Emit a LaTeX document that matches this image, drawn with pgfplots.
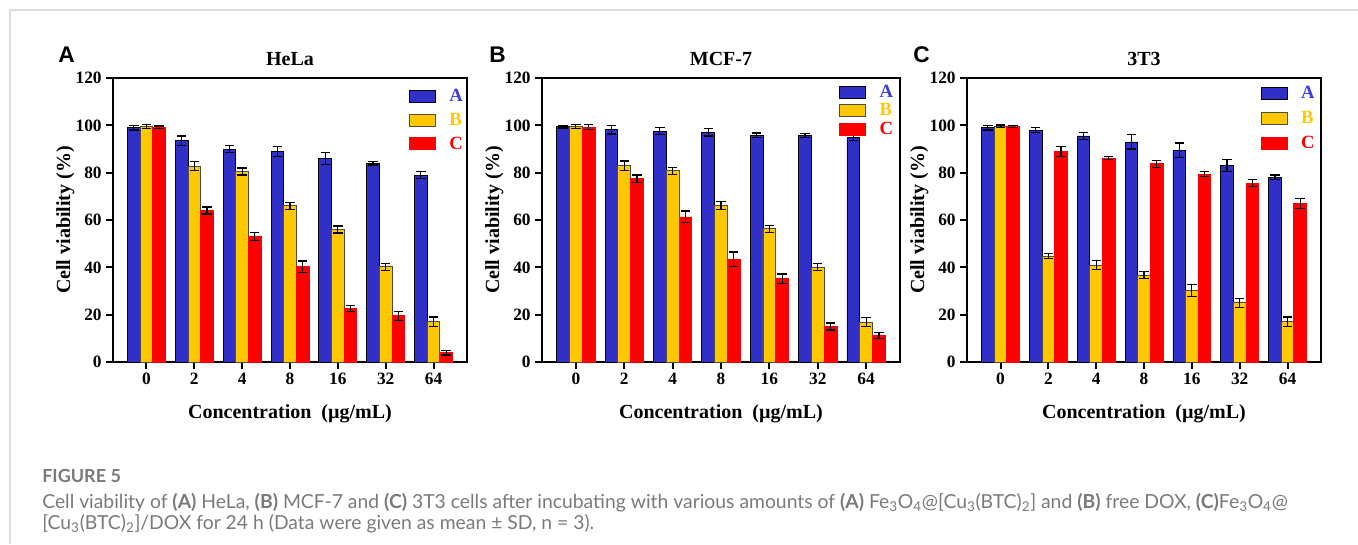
\documentclass[border=0pt]{standalone}
\usepackage{fontspec}
\setmainfont{Liberation Serif}
\newfontfamily\panelfont{Liberation Sans}
\newfontfamily\capfont{Lato}
\usepackage{pgfplots}
\pgfplotsset{compat=1.18}
\definecolor{cblue}{HTML}{3030C8}
\definecolor{cblueT}{HTML}{3C3CE0}
\definecolor{cyellow}{HTML}{FFC800}
\definecolor{cred}{HTML}{FF0000}
\definecolor{capgray}{HTML}{7A7A7A}
\definecolor{framegray}{HTML}{DCDCDC}

\pgfplotsset{
  panel/.style={
    scale only axis, width=265.5pt, height=213pt,
    xmin=-0.7, xmax=6.7, ymin=0, ymax=120,
    xtick={0,...,6}, xticklabels={0,2,4,8,16,32,64},
    ytick={0,20,...,120},
    tick align=outside, xtick pos=bottom, ytick pos=left,
    major tick length=5pt,
    axis line style={line width=1.7pt},
    every tick/.style={black, line width=1.5pt},
    /pgf/number format/assume math mode=true,
    tick label style={font=\bfseries\fontsize{13}{15}\selectfont},
    label style={font=\bfseries\fontsize{15}{18}\selectfont},
    title style={font=\bfseries\fontsize{15}{18}\selectfont},
    xlabel={Concentration\ \ (µg/mL)},
    ylabel={Cell viability (\%)},
    xlabel shift=8pt, ylabel shift=-6pt,
    ybar, bar width=0.264,
    legend image code/.code={\draw[##1] (0pt,-4.5pt) rectangle (19.5pt,4.5pt);},
    legend style={draw=none, fill=none, anchor=north west, inner sep=0pt,
      font=\bfseries\fontsize{14}{16}\selectfont, cells={anchor=west},
      column sep=8pt},
  },
  ebar/.style={error bars/.cd, y dir=both, y explicit,
    error bar style={black, line width=0.9pt},
    error mark options={rotate=90, mark size=3.5pt, black, line width=0.9pt}},
  serA/.style={fill=cblue, draw=black, line width=0.6pt, bar shift=-0.264, ebar},
  serB/.style={fill=cyellow, draw=black!70, line width=0.6pt, bar shift=0, ebar},
  serC/.style={fill=cred, draw=cred, line width=0.6pt, bar shift=0.264, ebar},
}

\begin{document}
\begin{tikzpicture}
\path[use as bounding box] (0,0) rectangle (1018.5pt,408pt);
% page frame
\draw[framegray, line width=1.5pt] (7.5pt,0) -- (7.5pt,400.5pt) -- (1018.5pt,400.5pt);

% panel letters
\node[anchor=base west, inner sep=0pt, font=\panelfont\bfseries\fontsize{17}{20}\selectfont] at (43.5pt,360.75pt) {A};
\node[anchor=base west, inner sep=0pt, font=\panelfont\bfseries\fontsize{17}{20}\selectfont] at (366.75pt,360.75pt) {B};
\node[anchor=base west, inner sep=0pt, font=\panelfont\bfseries\fontsize{17}{20}\selectfont] at (684.75pt,360.75pt) {C};

% A: HeLa
\begin{axis}[panel, at={(84.75pt,136.5pt)}, anchor=south west, title={HeLa},
  legend style={at={(0.836,0.97)}, row sep=3pt}]
\addplot[serA] coordinates {(0,99) +- (0,1) (1,93.5) +- (0,2) (2,90) +- (0,1.5) (3,89) +- (0,2)
  (4,86) +- (0,2.5) (5,84) +- (0,0.8) (6,79) +- (0,1.5)};
\addplot[serB] coordinates {(0,99.5) +- (0,0.8) (1,82.8) +- (0,2) (2,80.5) +- (0,1.5) (3,66) +- (0,1.5)
  (4,56) +- (0,1.5) (5,40.2) +- (0,1.5) (6,17) +- (0,2)};
\addplot[serC] coordinates {(0,99.2) +- (0,0.5) (1,64) +- (0,1.5) (2,53) +- (0,1.8) (3,40.2) +- (0,2.5)
  (4,22.6) +- (0,1.2) (5,19.5) +- (0,1.8) (6,4) +- (0,1)};
\legend{\textcolor{cblueT}{A}, \textcolor{cyellow}{B}, \textcolor{cred}{C}}
\end{axis}

% B: MCF-7
\begin{axis}[panel, at={(406.5pt,136.5pt)}, anchor=south west, width=268.5pt, title={MCF-7},
  legend style={at={(0.83,0.985)}, row sep=-1pt}]
\addplot[serA] coordinates {(0,99.4) +- (0,0.5) (1,98.1) +- (0,1.8) (2,97.6) +- (0,1.5) (3,97) +- (0,1.5)
  (4,95.8) +- (0,1) (5,95.7) +- (0,0.8) (6,94.7) +- (0,1)};
\addplot[serB] coordinates {(0,99.5) +- (0,0.7) (1,82.9) +- (0,2) (2,80.8) +- (0,1.5) (3,66.1) +- (0,1.8)
  (4,56.3) +- (0,1.5) (5,40.1) +- (0,1.5) (6,16.9) +- (0,2)};
\addplot[serC] coordinates {(0,99.2) +- (0,1) (1,77.5) +- (0,1.5) (2,61.3) +- (0,2.5) (3,43.5) +- (0,3)
  (4,35.2) +- (0,2) (5,15) +- (0,1.5) (6,11.2) +- (0,1.2)};
\legend{\textcolor{cblueT}{A}, \textcolor{cyellow}{B}, \textcolor{cred}{C}}
\end{axis}

% C: 3T3
\begin{axis}[panel, at={(725.25pt,136.5pt)}, anchor=south west, title={3T3},
  legend style={at={(0.83,0.98)}, row sep=4pt}]
\addplot[serA] coordinates {(0,99) +- (0,1) (1,98) +- (0,1) (2,95.5) +- (0,1.5) (3,93) +- (0,3)
  (4,89.5) +- (0,3) (5,83) +- (0,2.5) (6,78) +- (0,1)};
\addplot[serB] coordinates {(0,99.6) +- (0,0.5) (1,44.8) +- (0,1) (2,41) +- (0,2) (3,36.8) +- (0,1.5)
  (4,30.3) +- (0,2.5) (5,25) +- (0,2) (6,17) +- (0,2)};
\addplot[serC] coordinates {(0,99.5) +- (0,0.5) (1,89) +- (0,2) (2,86.2) +- (0,0.8) (3,83.8) +- (0,1.5)
  (4,79.4) +- (0,1) (5,75.5) +- (0,1.5) (6,67) +- (0,2)};
\legend{\textcolor{cblueT}{A}, \textcolor{cyellow}{B}, \textcolor{cred}{C}}
\end{axis}

% caption
\node[anchor=base west, inner sep=0pt, text=capgray, font=\capfont\bfseries\fontsize{13.5}{16}\selectfont] at (31.5pt,46.5pt) {FIGURE 5};
\node[anchor=base west, inner sep=0pt, text=capgray, font=\capfont\fontsize{14.5}{17}\selectfont] at (31.5pt,27pt)
  {Cell viability of \textbf{(A)} HeLa, \textbf{(B)} MCF-7 and \textbf{(C)} 3T3 cells after incubating with various amounts of \textbf{(A)} Fe\textsubscript{3}O\textsubscript{4}@[Cu\textsubscript{3}(BTC)\textsubscript{2}] and \textbf{(B)} free DOX, \textbf{(C)}Fe\textsubscript{3}O\textsubscript{4}@};
\node[anchor=base west, inner sep=0pt, text=capgray, font=\capfont\fontsize{14.5}{17}\selectfont] at (31.5pt,11.25pt)
  {[Cu\textsubscript{3}(BTC)\textsubscript{2}]/DOX for 24 h (Data were given as mean ± SD, n = 3).};
\end{tikzpicture}
\end{document}
